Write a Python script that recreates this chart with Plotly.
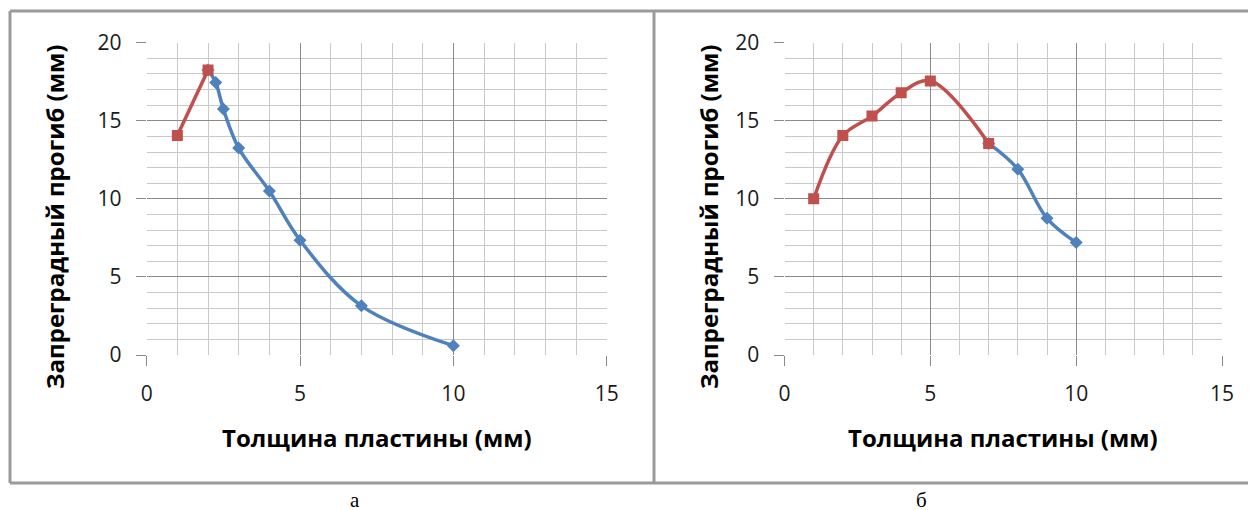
import plotly.graph_objects as go

# ---- data ----
a_red_x = [1, 2]
a_red_y = [14.05, 18.25]
a_blue_x = [2, 2.25, 2.5, 3, 4, 5, 7, 10]
a_blue_y = [18.25, 17.45, 15.75, 13.25, 10.5, 7.35, 3.15, 0.6]

b_red_x = [1, 2, 3, 4, 5, 7]
b_red_y = [10.0, 14.05, 15.3, 16.8, 17.55, 13.55]
b_blue_x = [7, 8, 9, 10]
b_blue_y = [13.55, 11.9, 8.75, 7.2]

x_title = "Толщина пластины (мм)"
y_title = "Запреградный прогиб (мм)"
captions = ["а", "б"]

W, H = 1256, 510
OFF = 8  # page body margin of the html page
BLUE = "#4F81BD"
RED = "#C0504D"
TICK_FONT = dict(family="Open Sans, Noto Sans, sans-serif", size=21, color="#1a1a1a")
TITLE_FONT = dict(family="Open Sans, Noto Sans, sans-serif", size=24, color="#000000", weight="bold")


def px(x):
    return (x - OFF) / W


def py(y):
    return 1 - (y - OFF) / H


fig = go.Figure()

for (bx, by, rx, ry, xa, ya) in [
    (a_blue_x, a_blue_y, a_red_x, a_red_y, "x", "y"),
    (b_blue_x, b_blue_y, b_red_x, b_red_y, "x2", "y2"),
]:
    fig.add_trace(go.Scatter(
        x=bx, y=by, xaxis=xa, yaxis=ya, mode="lines+markers",
        line=dict(color=BLUE, width=3.5, shape="spline", smoothing=1),
        marker=dict(symbol="diamond", size=10, color=BLUE),
        showlegend=False, hoverinfo="x+y"))
    fig.add_trace(go.Scatter(
        x=rx, y=ry, xaxis=xa, yaxis=ya, mode="lines+markers",
        line=dict(color=RED, width=3.5, shape="spline", smoothing=1),
        marker=dict(symbol="square", size=11, color=RED),
        showlegend=False, hoverinfo="x+y"))

axis_common = dict(
    showgrid=True, gridcolor="#8a8a8a", gridwidth=1.3,
    zeroline=False, showline=False, automargin=False,
    ticks="outside", ticklen=10, tickwidth=1.3, tickcolor="#8a8a8a",
    tickfont=TICK_FONT, dtick=5, tick0=0, ticklabelstandoff=10,
    minor=dict(dtick=1, showgrid=True, gridcolor="#c9c9c9", gridwidth=1.3, ticks=""),
    fixedrange=True,
)

left_x = [px(146.7), px(606.7)]
right_x = [px(784.5), px(1222)]
yd = [py(355), py(42.7)]

fig.update_layout(
    template="none",
    width=W, height=H,
    margin=dict(l=0, r=0, t=0, b=0, pad=0, autoexpand=False),
    paper_bgcolor="white", plot_bgcolor="white",
    xaxis=dict(domain=left_x, range=[0, 15], anchor="y", **axis_common),
    yaxis=dict(domain=yd, range=[0, 20], anchor="x", **axis_common),
    xaxis2=dict(domain=right_x, range=[0, 15], anchor="y2", **axis_common),
    yaxis2=dict(domain=yd, range=[0, 20], anchor="x2", **axis_common),
)

# frames around the two chart panels
FRAME = dict(color="#9a9a9a", width=3)
shapes = [
    dict(type="line", xref="paper", yref="paper", x0=px(10), x1=1.01, y0=py(11), y1=py(11), line=FRAME),
    dict(type="line", xref="paper", yref="paper", x0=px(10), x1=1.01, y0=py(483), y1=py(483), line=FRAME),
    dict(type="line", xref="paper", yref="paper", x0=px(10), x1=px(10), y0=py(11), y1=py(483), line=FRAME),
    dict(type="line", xref="paper", yref="paper", x0=px(654), x1=px(654), y0=py(11), y1=py(483), line=FRAME),
]
fig.update_layout(shapes=shapes)

annotations = []
for cx, ycx in [((146.7 + 606.7) / 2, 54), ((784.5 + 1222) / 2, 708)]:
    annotations.append(dict(
        text=x_title, x=px(cx), y=py(437), xref="paper", yref="paper",
        xanchor="center", yanchor="middle", showarrow=False, font=TITLE_FONT))
    annotations.append(dict(
        text=y_title, x=px(ycx), y=py(217), xref="paper", yref="paper",
        xanchor="center", yanchor="middle", showarrow=False, textangle=-90, font=TITLE_FONT))

for cap, cx in zip(captions, [355, 921]):
    annotations.append(dict(
        text=cap, x=px(cx), y=py(500), xref="paper", yref="paper",
        xanchor="center", yanchor="middle", showarrow=False,
        font=dict(family="Liberation Serif, serif", size=21, color="#000000")))

fig.update_layout(annotations=annotations)

fig.write_html("out.html")
